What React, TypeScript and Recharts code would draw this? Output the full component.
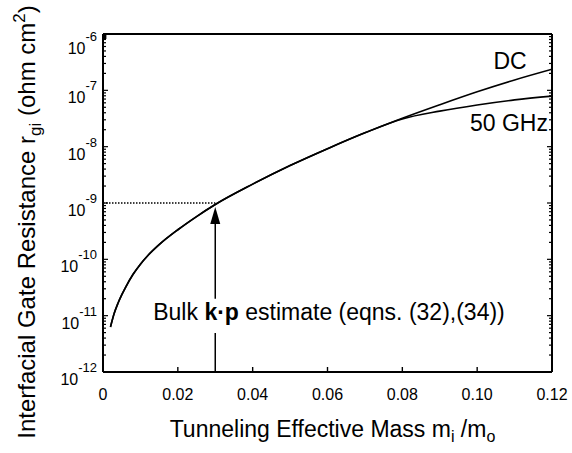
import React from 'react';
import { LineChart, Line, XAxis, YAxis, ReferenceLine, ReferenceDot } from 'recharts';

// Tunneling effective mass m_i/m_o
const massX = [0.002, 0.003, 0.004, 0.005, 0.006, 0.008, 0.01, 0.012, 0.015, 0.02, 0.025, 0.03, 0.04, 0.05, 0.06, 0.07, 0.08, 0.09, 0.1, 0.11, 0.12];
// Interfacial gate resistance r_gi (ohm cm^2), DC
const dcValues = [6.3e-12, 1.1e-11, 1.66e-11, 2.34e-11, 3.16e-11, 5.37e-11, 8.2e-11, 1.17e-10, 1.82e-10, 3.35e-10, 5.75e-10, 9.4e-10, 2.16e-9, 4.62e-9, 9.2e-9, 1.76e-8, 3.2e-8, 5.56e-8, 9.44e-8, 1.53e-7, 2.37e-7];
// 50 GHz
const ghz50Values = [6.3e-12, 1.1e-11, 1.66e-11, 2.34e-11, 3.16e-11, 5.37e-11, 8.2e-11, 1.17e-10, 1.82e-10, 3.35e-10, 5.75e-10, 9.4e-10, 2.16e-9, 4.62e-9, 9.2e-9, 1.76e-8, 3.1e-8, 4.27e-8, 5.5e-8, 6.76e-8, 7.9e-8];

const xTicks = [0, 0.02, 0.04, 0.06, 0.08, 0.1, 0.12];
const xTickLabels = ['0', '0.02', '0.04', '0.06', '0.08', '0.10', '0.12'];
const yMajorExps = [-12, -11, -10, -9, -8, -7, -6];
const yMajorTicks = [1e-12, 1e-11, 1e-10, 1e-9, 1e-8, 1e-7, 1e-6];
const minorMultipliers = [2, 3, 4, 5, 6, 7, 8, 9];
const yMinorTicks: number[] = [];
yMajorExps.slice(0, -1).forEach((e) => minorMultipliers.forEach((m) => yMinorTicks.push(m * Math.pow(10, e))));
const yAllTicks = [...yMajorTicks, ...yMinorTicks].sort((a, b) => a - b);

// Bulk k.p estimate
const estimateMass = 0.03;
const estimateResistance = 1e-9;
const arrowTipValue = 8.5e-10;
const arrowUpperStart = 2.0e-11;
const arrowLowerEnd = 4.9e-12;

// annotation anchors (data units)
const dcLabelAt = { x: 0.1088, y: 3.3e-7 };
const ghzLabelAt = { x: 0.1085, y: 2.6e-8 };
const bulkLabelAt = { x: 0.0604, y: 1.17e-11 };

const data = massX.map((x, i) => ({ x, dc: dcValues[i], ghz: ghz50Values[i] }));

const FONT = '"Liberation Sans", Arial, Helvetica, sans-serif';
const Y_DOMAIN: [number, number] = [1e-12, 1e-6];
const Y_MARGIN = 6;
const MAJOR_LEN = 5;
const MINOR_LEN = 3;
const TICK_COLOR = '#000';

const majorIndex = (v: number) => yMajorTicks.findIndex((m) => Math.abs(m - v) / m < 1e-6);

const XTick = (props: any) => {
  const { x, y, payload } = props;
  const idx = xTicks.indexOf(payload.value);
  return (
    <g>
      <line x1={x} y1={y} x2={x} y2={y - MAJOR_LEN} stroke={TICK_COLOR} strokeWidth={1.4} />
      <text x={x} y={y + 28} textAnchor="middle" fontSize={16} fontFamily={FONT} fill="#000">
        {idx >= 0 ? xTickLabels[idx] : payload.value}
      </text>
    </g>
  );
};

const TopTick = (props: any) => {
  const { x, y } = props;
  return <line x1={x} y1={y} x2={x} y2={y + MAJOR_LEN} stroke={TICK_COLOR} strokeWidth={1.4} />;
};

const YTick = (props: any) => {
  const { x, y, payload } = props;
  const idx = majorIndex(payload.value);
  const axisX = x + Y_MARGIN;
  const len = idx >= 0 ? MAJOR_LEN : MINOR_LEN;
  const exp = idx >= 0 ? yMajorExps[idx] : 0;
  const shift = exp === -6 ? 7 : 0;
  return (
    <g>
      <line x1={axisX} y1={y} x2={axisX + len} y2={y} stroke={TICK_COLOR} strokeWidth={1.2} />
      {idx >= 0 && (
        <text x={x} y={y + 13 + shift} textAnchor="end" fontSize={16} fontFamily={FONT} fill="#000">
          <tspan>10</tspan>
          <tspan dy={-13} fontSize={13}>{'-' + Math.abs(exp)}</tspan>
        </text>
      )}
    </g>
  );
};

const RightTick = (props: any) => {
  const { x, y, payload } = props;
  const len = majorIndex(payload.value) >= 0 ? MAJOR_LEN : MINOR_LEN;
  return <line x1={x} y1={y} x2={x - len} y2={y} stroke={TICK_COLOR} strokeWidth={1.2} />;
};

const XTitle = (props: any) => {
  const vb = props.viewBox;
  const cx = vb.x + vb.width / 2 + 5;
  return (
    <text x={cx} y={vb.y + 65} textAnchor="middle" fontSize={23} fontFamily={FONT} fill="#000">
      <tspan>Tunneling Effective Mass m</tspan>
      <tspan dy={5} fontSize={16}>i</tspan>
      <tspan dy={-5}> /m</tspan>
      <tspan dy={5} fontSize={16}>o</tspan>
    </text>
  );
};

const YTitle = (props: any) => {
  const vb = props.viewBox;
  const cx = 35;
  const cy = vb.y + vb.height / 2 + 19;
  return (
    <text
      x={cx}
      y={cy}
      transform={`rotate(-90, ${cx}, ${cy})`}
      textAnchor="middle"
      fontSize={24}
      fontFamily={FONT}
      fill="#000"
    >
      <tspan>Interfacial Gate Resistance r</tspan>
      <tspan dy={6} fontSize={17}>gi</tspan>
      <tspan dy={-6}> (ohm cm</tspan>
      <tspan dy={-10} fontSize={17}>2</tspan>
      <tspan dy={10}>)</tspan>
    </text>
  );
};

const ArrowShape = (props: any) => {
  const { x1, y1, x2, y2 } = props;
  const tipY = Math.min(y1, y2);
  const baseY = Math.max(y1, y2);
  const x = x1;
  return (
    <g>
      <line x1={x} y1={baseY} x2={x} y2={tipY + 12} stroke="#000" strokeWidth={1.5} />
      <polygon points={`${x},${tipY} ${x - 5},${tipY + 17} ${x + 5},${tipY + 17}`} fill="#000" />
    </g>
  );
};

const textShape = (content: React.ReactNode) => (props: any) => (
  <text x={props.cx} y={props.cy} textAnchor="middle" dominantBaseline="central" fontSize={23} fontFamily={FONT} fill="#000">
    {content}
  </text>
);

export default function App() {
  return (
    <div style={{ position: 'absolute', left: 0, top: 0, width: 572, height: 453, background: '#fff' }}>
      <LineChart width={572} height={453} data={data} margin={{ top: 33, right: 19, bottom: 40, left: 43 }}>
        <XAxis
          dataKey="x"
          type="number"
          domain={[0, 0.12]}
          ticks={xTicks}
          interval={0}
          tick={<XTick />}
          tickLine={false}
          tickSize={0}
          tickMargin={0}
          height={41}
          stroke="#000"
          strokeWidth={2}
          allowDataOverflow
          label={XTitle}
        />
        <XAxis
          xAxisId="top"
          orientation="top"
          type="number"
          domain={[0, 0.12]}
          ticks={xTicks}
          interval={0}
          tick={<TopTick />}
          tickLine={false}
          tickSize={0}
          tickMargin={0}
          height={1}
          stroke="#000"
          strokeWidth={2}
          allowDataOverflow
        />
        <YAxis
          yAxisId="main"
          scale="log"
          type="number"
          domain={Y_DOMAIN}
          ticks={yAllTicks}
          interval={0}
          tick={<YTick />}
          tickLine={false}
          tickSize={0}
          tickMargin={Y_MARGIN}
          width={60}
          stroke="#000"
          strokeWidth={2}
          allowDataOverflow
          label={YTitle}
        />
        <YAxis
          yAxisId="right"
          orientation="right"
          scale="log"
          type="number"
          domain={Y_DOMAIN}
          ticks={yAllTicks}
          interval={0}
          tick={<RightTick />}
          tickLine={false}
          tickSize={0}
          tickMargin={0}
          width={1}
          stroke="#000"
          strokeWidth={2}
          allowDataOverflow
        />
        <ReferenceLine
          yAxisId="main"
          segment={[
            { x: 0, y: estimateResistance },
            { x: estimateMass, y: estimateResistance },
          ]}
          stroke="#000"
          strokeWidth={1.6}
          strokeDasharray="1.5 1.5"
          ifOverflow="visible"
        />
        <ReferenceLine
          yAxisId="main"
          segment={[
            { x: estimateMass, y: Y_DOMAIN[0] },
            { x: estimateMass, y: arrowLowerEnd },
          ]}
          stroke="#000"
          strokeWidth={1.5}
          ifOverflow="visible"
        />
        <ReferenceLine
          yAxisId="main"
          segment={[
            { x: estimateMass, y: arrowUpperStart },
            { x: estimateMass, y: arrowTipValue },
          ]}
          shape={ArrowShape}
          ifOverflow="visible"
        />
        <Line yAxisId="main" dataKey="dc" type="monotone" stroke="#000" strokeWidth={1.6} dot={false} isAnimationActive={false} />
        <Line yAxisId="main" dataKey="ghz" type="monotone" stroke="#000" strokeWidth={1.6} dot={false} isAnimationActive={false} />
        <ReferenceDot yAxisId="main" x={dcLabelAt.x} y={dcLabelAt.y} r={0} ifOverflow="visible" shape={textShape('DC')} />
        <ReferenceDot yAxisId="main" x={ghzLabelAt.x} y={ghzLabelAt.y} r={0} ifOverflow="visible" shape={textShape('50 GHz')} />
        <ReferenceDot
          yAxisId="main"
          x={bulkLabelAt.x}
          y={bulkLabelAt.y}
          r={0}
          ifOverflow="visible"
          shape={textShape(
            <>
              <tspan>Bulk </tspan>
              <tspan fontWeight="bold">k·p</tspan>
              <tspan> estimate (eqns. (32),(34))</tspan>
            </>
          )}
        />
      </LineChart>
    </div>
  );
}
